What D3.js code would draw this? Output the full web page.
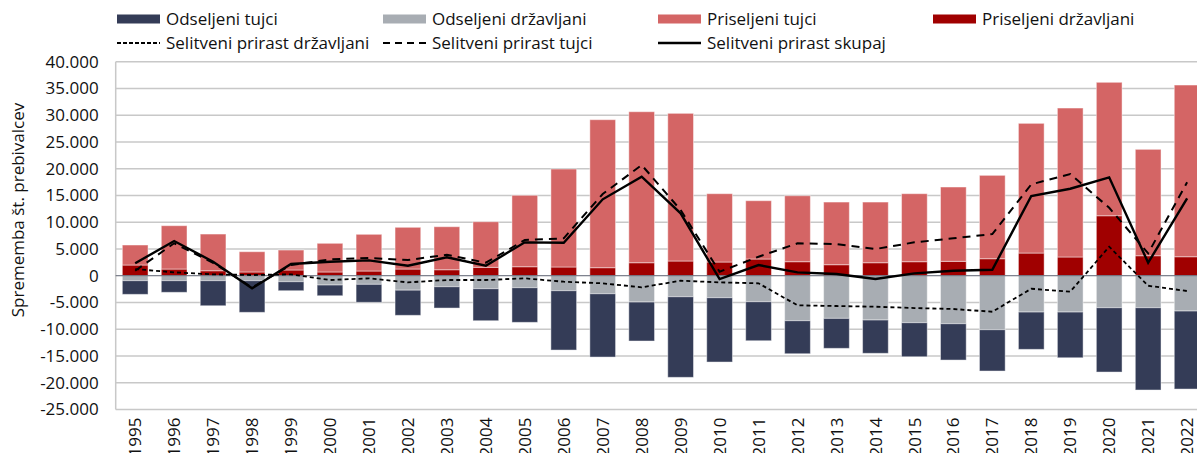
<!DOCTYPE html>
<html>
<head>
<meta charset="utf-8">
<script src="https://cdn.jsdelivr.net/npm/d3@7"></script>
<style>
body { margin: 0; background: #fff; }
text { font-family: "Open Sans", sans-serif; fill: #111; }
</style>
</head>
<body>
<svg id="chart" width="1197" height="453"></svg>
<script>
const years = [1995, 1996, 1997, 1998, 1999, 2000, 2001, 2002, 2003, 2004, 2005, 2006, 2007, 2008,
    2009, 2010, 2011, 2012, 2013, 2014, 2015, 2016, 2017, 2018, 2019, 2020, 2021, 2022];

// priseljeni (positive)
const priseljeniDrzavljani = [2000, 1250, 930, 700, 1070, 700, 880, 1250, 1120, 1570, 1680, 1630, 1500, 2430,
    2750, 2560, 3120, 2620, 2060, 2430, 2620, 2690, 3180, 4240, 3500, 11210, 3740, 3550];
const priseljeniTujci = [3740, 8100, 6860, 3790, 3730, 5360, 6860, 7800, 8040, 8520, 13350, 18310, 27660, 28220,
    27600, 12770, 10900, 12330, 11710, 11340, 12710, 13890, 15580, 24240, 27840, 24940, 19880, 32090];

// odseljeni (negative)
const odseljeniDrzavljani = [-930, -930, -930, -930, -1120, -1740, -1610, -2700, -2060, -2430, -2240, -2800, -3370, -4920,
    -3930, -4110, -4860, -8410, -7970, -8280, -8780, -8970, -10090, -6790, -6790, -5980, -5980, -6600];
const odseljeniTujci = [-2550, -2170, -4680, -5910, -1680, -2000, -3360, -4700, -3980, -5980, -6470, -11090, -11830, -7280,
    -15060, -12020, -7290, -6170, -5600, -6220, -6360, -6790, -7720, -6970, -8540, -12020, -15380, -14580];

// selitveni prirast
const prirastDrzavljani = [1250, 630, 260, 130, 260, -800, -490, -1240, -800, -800, -490, -1120, -1420, -2170,
    -935, -1240, -1420, -5530, -5660, -5790, -6040, -6220, -6730, -2430, -2990, 5420, -1870, -2860];
const prirastTujci = [935, 6060, 2400, -2200, 2000, 3065, 3300, 2935, 3925, 2430, 6670, 6990, 15270, 20690,
    12280, 750, 3550, 6055, 5925, 4990, 6240, 6990, 7790, 17080, 19010, 12700, 4190, 17460];
const prirastSkupaj = [2320, 6490, 2620, -2360, 2190, 2620, 2870, 1870, 3440, 1870, 6240, 6170, 14280, 18500,
    11660, -620, 2000, 635, 320, -620, 450, 935, 1120, 14900, 16260, 18390, 2430, 14470];

const yTicks = d3.range(-25000, 40001, 5000);

const colors = {
    odsTujci: "#343c57",
    odsDrz: "#a8adb3",
    prisTujci: "#d46565",
    prisDrz: "#a00000",
};

const svg = d3.select("#chart");
const plot = { left: 115.7, right: 1206.6, top: 61.7, bottom: 409.5 };

const x = d3.scaleBand().domain(years).range([plot.left, plot.right])
    .paddingInner(0.34).paddingOuter(0.17);
const y = d3.scaleLinear().domain([-25000, 40000]).range([plot.bottom, plot.top]);

const locale = d3.formatLocale({ decimal: ",", thousands: ".", grouping: [3], currency: ["", ""], minus: "-" });
const fmt = locale.format(",d");

// grid
svg.append("g").selectAll("line")
    .data(yTicks.filter(d => d !== 0))
    .join("line")
    .attr("x1", plot.left).attr("x2", 1197)
    .attr("y1", d => y(d)).attr("y2", d => y(d))
    .attr("stroke", "#c8c8c8").attr("stroke-width", 1.5);

svg.append("line")
    .attr("x1", plot.left).attr("x2", plot.left)
    .attr("y1", plot.top).attr("y2", plot.bottom)
    .attr("stroke", "#c8c8c8").attr("stroke-width", 1.5);

// bars
const table = years.map((yr, i) => ({
    year: yr,
    prisDrz: priseljeniDrzavljani[i],
    prisTujci: priseljeniTujci[i],
    odsDrz: odseljeniDrzavljani[i],
    odsTujci: odseljeniTujci[i],
}));
const stack = d3.stack()
    .keys(["prisDrz", "prisTujci", "odsDrz", "odsTujci"])
    .offset(d3.stackOffsetDiverging);
const series = stack(table);

svg.append("g").selectAll("g")
    .data(series)
    .join("g")
    .attr("fill", s => colors[s.key])
    .selectAll("rect")
    .data(s => s)
    .join("rect")
    .attr("x", d => x(d.data.year))
    .attr("width", x.bandwidth())
    .attr("y", d => y(Math.max(d[0], d[1])))
    .attr("height", d => Math.abs(y(d[0]) - y(d[1])))
    .attr("stroke", "rgba(255,255,255,0.45)")
    .attr("stroke-width", 1);

// zero line
svg.append("line")
    .attr("x1", plot.left).attr("x2", 1197)
    .attr("y1", y(0)).attr("y2", y(0))
    .attr("stroke", "#5c6070").attr("stroke-width", 1);

// lines
const cx = yr => x(yr) + x.bandwidth() / 2;
const lineGen = d3.line().x((d, i) => cx(years[i])).y(d => y(d));

const lineStyles = [
    { data: prirastDrzavljani, dash: "4,3", width: 1.8 },
    { data: prirastTujci, dash: "8,6", width: 2 },
    { data: prirastSkupaj, dash: null, width: 2.4 },
];
lineStyles.forEach(l => {
    svg.append("path")
        .datum(l.data)
        .attr("d", lineGen)
        .attr("fill", "none")
        .attr("stroke", "#000")
        .attr("stroke-width", l.width)
        .attr("stroke-dasharray", l.dash);
});

// axes
const yAxis = svg.append("g")
    .attr("transform", `translate(${plot.left},0)`)
    .call(d3.axisLeft(y).tickValues(yTicks).tickFormat(fmt).tickSize(0).tickPadding(17));
yAxis.select(".domain").remove();
yAxis.selectAll("text").style("font-size", "17px").attr("fill", "#111");

const xAxis = svg.append("g")
    .attr("transform", `translate(0,${plot.bottom})`)
    .call(d3.axisBottom(x).tickSize(0));
xAxis.select(".domain").remove();
xAxis.selectAll("text")
    .style("font-size", "17px")
    .attr("fill", "#111")
    .attr("transform", "rotate(-90)")
    .attr("text-anchor", "end")
    .attr("x", -8)
    .attr("y", 0)
    .attr("dy", "0.36em");

svg.append("text")
    .attr("transform", "translate(24,210) rotate(-90)")
    .attr("text-anchor", "middle")
    .style("font-size", "17px")
    .text("Sprememba št. prebivalcev");

// legend
const legendItems = [
    { label: "Odseljeni tujci", type: "rect", color: colors.odsTujci, col: 0, row: 0 },
    { label: "Odseljeni državljani", type: "rect", color: colors.odsDrz, col: 1, row: 0 },
    { label: "Priseljeni tujci", type: "rect", color: colors.prisTujci, col: 2, row: 0 },
    { label: "Priseljeni državljani", type: "rect", color: colors.prisDrz, col: 3, row: 0 },
    { label: "Selitveni prirast državljani", type: "line", dash: "4,2", width: 1.8, col: 0, row: 1 },
    { label: "Selitveni prirast tujci", type: "line", dash: "7,5", width: 2, col: 1, row: 1 },
    { label: "Selitveni prirast skupaj", type: "line", dash: null, width: 2.4, col: 2, row: 1 },
];
const legendCols = [117, 383, 658, 933];
const legendRows = [19, 43];

const legend = svg.append("g");
const li = legend.selectAll("g")
    .data(legendItems)
    .join("g")
    .attr("transform", d => `translate(${legendCols[d.col]},${legendRows[d.row]})`);

li.filter(d => d.type === "rect")
    .append("rect")
    .attr("x", 0).attr("y", -4.5)
    .attr("width", 43).attr("height", 9)
    .attr("fill", d => d.color);

li.filter(d => d.type === "line")
    .append("line")
    .attr("x1", 0).attr("x2", 43)
    .attr("stroke", "#000")
    .attr("stroke-width", d => d.width)
    .attr("stroke-dasharray", d => d.dash);

li.append("text")
    .attr("x", 49)
    .attr("dy", "0.35em")
    .style("font-size", "17px")
    .text(d => d.label);
</script>
</body>
</html>
